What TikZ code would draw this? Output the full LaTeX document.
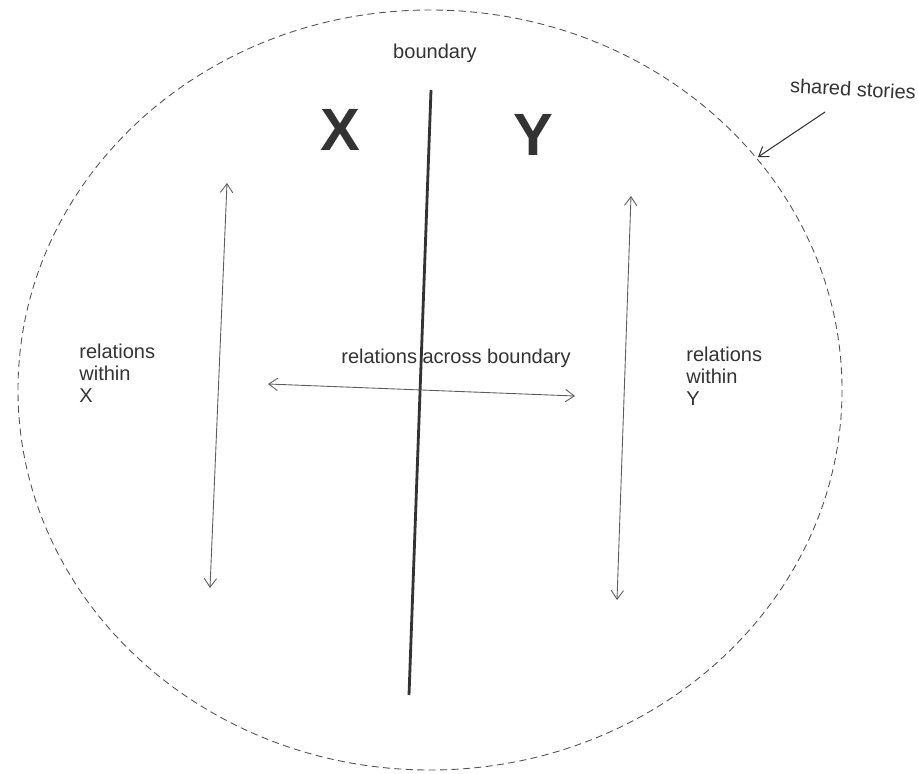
\documentclass[tikz,border=0pt]{standalone}
\usepackage{fontspec}
\setmainfont{Liberation Sans}
\usepackage{xcolor}
\usepackage{tikz}
\usetikzlibrary{arrows.meta,calc,positioning}

\definecolor{ink}{HTML}{333333}
\tikzset{
  lbl/.style={text=ink,font=\fontsize{11.4}{12.6}\selectfont,inner sep=0pt},
  side/.style={text=ink,font=\bfseries\fontsize{34}{34}\selectfont,inner sep=0pt},
  rel/.style={<->,ink!80,line width=0.5pt}
}

\begin{document}
\begin{tikzpicture}[x=0.02cm,y=-0.02cm,>={Straight Barb[length=5pt,width=7pt]}]
\useasboundingbox (0,0) rectangle (918,773);
\draw[ink!85,dashed,dash pattern=on 4pt off 2.5pt,line width=0.5pt] (430,390) ellipse [x radius=412,y radius=380];
\coordinate (btop) at (431,90);
\coordinate (bbot) at (409,695);
\draw[ink,line width=1.6pt] (btop) -- (bbot);
\node[lbl] (boundary) at (435,53) {boundary};
\node[side] (X) at (340,130) {X};
\node[side] (Y) at (533,135) {Y};
% relations within each side
\coordinate (xa) at (227,183);
\coordinate (xb) at (210,588);
\coordinate (ya) at (631,196);
\coordinate (yb) at (617,600);
\draw[rel] (xa) -- (xb);
\draw[rel] (ya) -- (yb);
\coordinate (ha) at (268,384);
\coordinate (hb) at (575,396);
\draw[rel] (ha) -- (hb);
\node[lbl] (across) at (456,358) {relations across boundary};
\node[lbl,anchor=west,align=left] (withinX) at (79,373) {relations\\within\\X};
\node[lbl,anchor=west,align=left] (withinY) at (686,376) {relations\\within\\Y};
% label outside the circle
\node[lbl,rotate=-3] (shared) at (853,89) {shared stories};
\coordinate (sa) at (825,112);
\coordinate (sb) at (758,157);
\draw[->,ink,line width=0.6pt] (sa) -- (sb);
\end{tikzpicture}
\end{document}
